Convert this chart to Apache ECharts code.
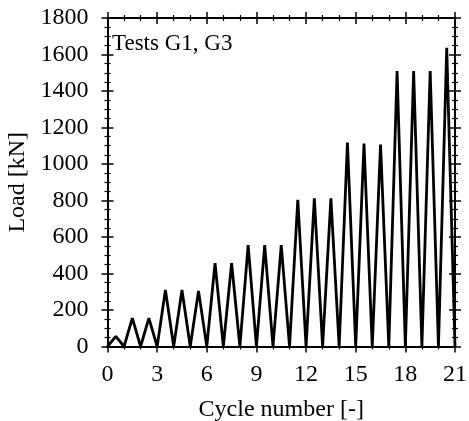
<!DOCTYPE html>
<html>
<head>
<meta charset="utf-8">
<script src="https://cdn.jsdelivr.net/npm/echarts@6/dist/echarts.min.js"></script>
<style>html,body{margin:0;padding:0;background:#fff}#c{width:469px;height:421px}</style>
</head>
<body>
<div id="c"></div>
<script>
// Peak load of each cycle (reached at mid-cycle), valleys at cycle ends
var cyclePeaks = [55, 156, 156, 310, 310, 305, 457, 457, 555, 555, 555, 804, 812, 812, 1118, 1112, 1106, 1510, 1510, 1510, 1637];
var cycleValleys = [0, 0, 0, 0, 0, 0, 0, 0, 0, 0, 0, 0, 0, 0, 0, 0, 0, 0, 0, 0, 0, 0];
var xTicks = [0, 3, 6, 9, 12, 15, 18, 21];
var yTicks = [0, 200, 400, 600, 800, 1000, 1200, 1400, 1600, 1800];
var annotation = 'Tests G1, G3';
var xName = 'Cycle number [-]';
var yName = 'Load [kN]';

var pts = [];
for (var i = 0; i < cyclePeaks.length; i++) {
  pts.push([i, cycleValleys[i]]);
  pts.push([i + 0.5, cyclePeaks[i]]);
}
pts.push([cyclePeaks.length, cycleValleys[cyclePeaks.length]]);

var FONT = 'Liberation Serif';
var FS = 24;
var lineStyle = {color: '#000', width: 2};

function xAx(pos, inside, labels) {
  return {
    type: 'value', position: pos, min: xTicks[0], max: xTicks[xTicks.length - 1],
    interval: xTicks[1] - xTicks[0],
    axisLine: {show: true, onZero: false, lineStyle: lineStyle},
    axisTick: {show: true, inside: inside, length: 6, lineStyle: {color: '#000', width: 1.5}},
    minorTick: {show: true, splitNumber: 3, length: 3, lineStyle: {color: '#000', width: 1.2}},
    axisLabel: {show: labels, margin: 16, color: '#000', fontFamily: FONT, fontSize: FS,
      formatter: function (v) { return String(v); }},
    splitLine: {show: false},
    name: labels ? xName : '', nameLocation: 'middle', nameGap: 51,
    nameTextStyle: {color: '#000', fontFamily: FONT, fontSize: FS}
  };
}
function yAx(pos, inside, labels) {
  return {
    type: 'value', position: pos, min: yTicks[0], max: yTicks[yTicks.length - 1],
    interval: yTicks[1] - yTicks[0],
    axisLine: {show: true, onZero: false, lineStyle: lineStyle},
    axisTick: {show: true, inside: inside, length: 6, lineStyle: {color: '#000', width: 1.5}},
    minorTick: {show: true, splitNumber: 4, length: 3, lineStyle: {color: '#000', width: 1.2}},
    axisLabel: {show: labels, margin: 19, color: '#000', fontFamily: FONT, fontSize: FS,
      formatter: function (v) { return String(v); }},
    splitLine: {show: false},
    name: labels ? yName : '', nameLocation: 'middle', nameGap: 75,
    nameTextStyle: {color: '#000', fontFamily: FONT, fontSize: FS}
  };
}

var chart = echarts.init(document.getElementById('c'), null, {renderer: 'canvas'});
chart.setOption({
  animation: false,
  backgroundColor: '#fff',
  grid: {left: 107.5, right: 14, top: 18, bottom: 74.5, containLabel: false, outerBoundsMode: 'none'},
  xAxis: [xAx('bottom', false, true), xAx('bottom', true, false), xAx('top', false, false), xAx('top', true, false)],
  yAxis: [yAx('left', false, true), yAx('left', true, false), yAx('right', false, false), yAx('right', true, false)],
  graphic: [{
    type: 'text', left: 112, top: 32,
    style: {text: annotation, fill: '#000', font: '23px "Liberation Serif"'}
  }],
  series: [{
    type: 'line', xAxisIndex: 0, yAxisIndex: 0, data: pts, symbol: 'none',
    lineStyle: {color: '#000', width: 2.8}, clip: false
  }]
});
</script>
</body>
</html>
